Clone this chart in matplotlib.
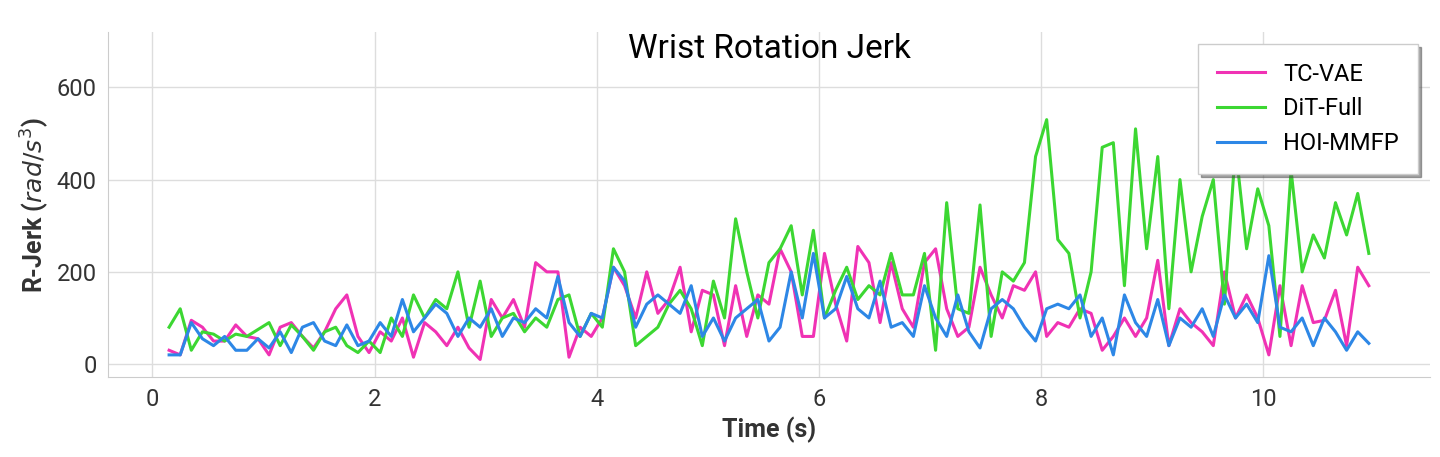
import numpy as np
import matplotlib.pyplot as plt

plt.rcParams['font.family'] = ['Roboto', 'DejaVu Sans']

tc_vae = [30, 20, 95, 80, 50, 50, 85, 60, 55, 20, 80, 90, 60, 35, 70, 120, 150, 60, 25, 70,
          50, 100, 15, 90, 70, 40, 80, 35, 10, 140, 100, 140, 80, 220, 200, 200, 15, 80, 60, 100,
          210, 170, 100, 200, 110, 140, 210, 70, 160, 150, 40, 170, 60, 150, 130, 250, 200, 60, 60, 240,
          130, 50, 255, 220, 90, 220, 120, 80, 220, 250, 120, 60, 80, 210, 150, 100, 170, 160, 200, 60,
          90, 80, 120, 110, 30, 60, 100, 60, 100, 225, 40, 120, 90, 70, 40, 200, 100, 150, 100, 20,
          170, 40, 170, 90, 95, 160, 40, 210, 170]
dit_full = [80, 120, 30, 70, 65, 50, 65, 60, 75, 90, 40, 85, 60, 30, 70, 80, 40, 25, 50, 25,
            100, 60, 150, 100, 140, 120, 200, 80, 180, 60, 100, 110, 70, 100, 80, 140, 150, 60, 110, 80,
            250, 200, 40, 60, 80, 130, 160, 120, 40, 180, 100, 315, 200, 100, 220, 250, 300, 150, 290, 100,
            160, 210, 140, 170, 150, 240, 150, 150, 240, 30, 350, 120, 110, 345, 60, 200, 180, 220, 450, 530,
            270, 240, 100, 200, 470, 480, 170, 510, 250, 450, 120, 400, 200, 320, 400, 130, 470, 250, 380, 300,
            60, 420, 200, 280, 230, 350, 280, 370, 240]
hoi_mmfp = [20, 20, 90, 55, 40, 60, 30, 30, 55, 35, 70, 25, 80, 90, 50, 40, 85, 40, 50, 90,
            60, 140, 70, 100, 130, 110, 60, 100, 80, 120, 60, 100, 90, 120, 100, 190, 90, 60, 110, 100,
            210, 180, 80, 130, 150, 130, 110, 170, 60, 100, 50, 100, 120, 140, 50, 80, 200, 100, 240, 100,
            120, 190, 120, 100, 180, 80, 90, 60, 170, 100, 60, 150, 70, 35, 120, 140, 120, 80, 50, 120,
            130, 120, 150, 60, 100, 20, 150, 90, 60, 140, 40, 100, 80, 120, 60, 150, 100, 130, 90, 235,
            80, 70, 100, 40, 100, 70, 30, 70, 45]
time_s = 0.15 + 0.1 * np.arange(len(tc_vae))

fig, ax = plt.subplots(figsize=(14.4, 4.57), dpi=100)
ax.plot(time_s, tc_vae, color='#f032b4', lw=2.2, label='TC-VAE')
ax.plot(time_s, dit_full, color='#3cd732', lw=2.2, label='DiT-Full')
ax.plot(time_s, hoi_mmfp, color='#2d87e6', lw=2.2, label='HOI-MMFP')

ax.set_xlim(-0.4, 11.5)
ax.set_ylim(-28, 720)
ax.set_xticks([0, 2, 4, 6, 8, 10])
ax.set_yticks([0, 200, 400, 600])
ax.grid(True, color='#dddddd', lw=1)
ax.set_axisbelow(True)
for s in ['top', 'right']:
    ax.spines[s].set_visible(False)
for s in ['left', 'bottom']:
    ax.spines[s].set_color('#cccccc')
ax.tick_params(labelsize=17, length=0, pad=8, colors='#333333')
ax.set_xlabel('Time (s)', fontsize=18, fontweight='bold', color='#333333')
ax.set_ylabel(r'R-Jerk ($rad/s^3$)', fontsize=18, fontweight='bold', color='#333333')
ax.set_title('Wrist Rotation Jerk', fontsize=24, y=0.9)
ax.legend(loc='upper right', fontsize=17, shadow=True, fancybox=False,
          borderpad=0.8, edgecolor='#cccccc', framealpha=1)

fig.subplots_adjust(left=0.075, right=0.993, top=0.93, bottom=0.175)
fig.savefig('out.png')
